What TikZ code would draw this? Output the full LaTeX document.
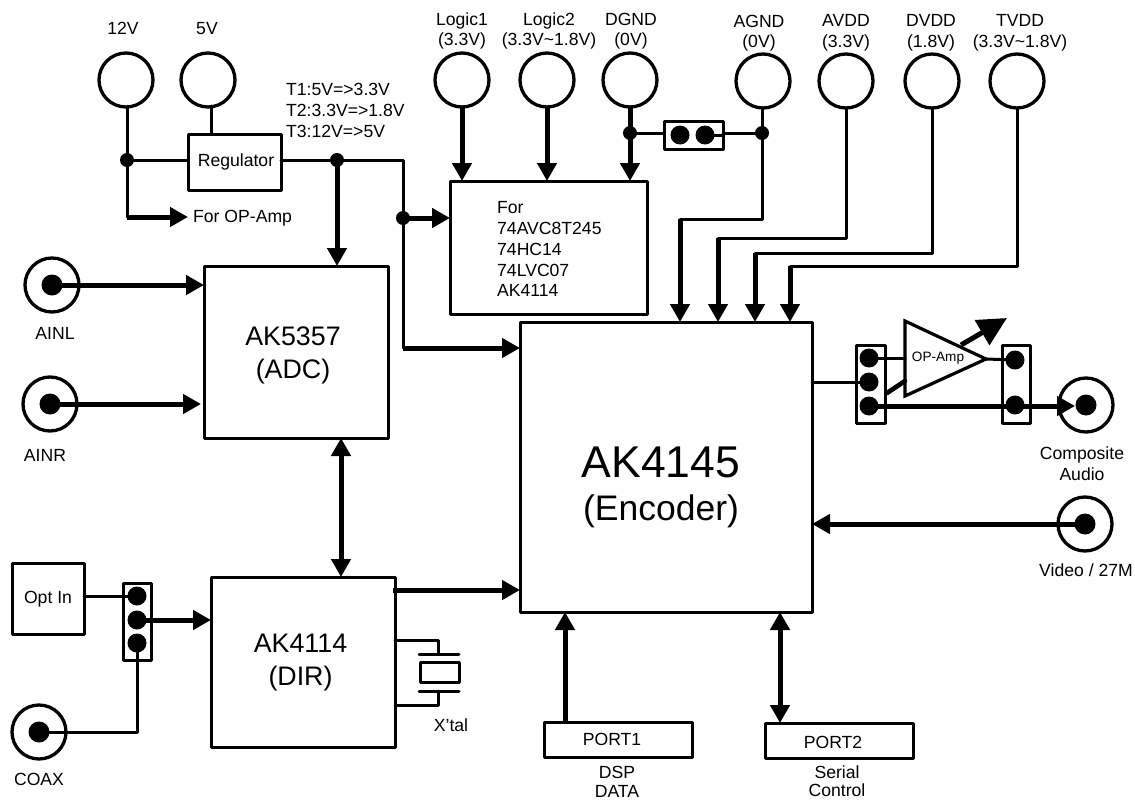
\documentclass[tikz,border=0pt]{standalone}
\usepackage{fontspec}
\setmainfont{Liberation Sans}
\usetikzlibrary{arrows.meta,calc}
\tikzset{
  bigtip/.tip={Triangle[length=18pt,width=19pt]},
  hugetip/.tip={Triangle[length=29pt,width=28pt]},
  wire/.style={line width=3pt,line cap=round,line join=round},
  heavy/.style={line width=5pt,line join=round},
  thickarr/.style={heavy,-{bigtip}},
  bothway/.style={heavy,{bigtip}-{bigtip}},
  box/.style={draw,line width=3pt,line join=round,inner sep=0pt,outer sep=0pt,anchor=north west,align=center},
  ring/.style={draw,circle,line width=3.3pt,minimum size=54pt,inner sep=0pt,outer sep=0pt},
  dot/.style={fill,circle,minimum size=#1,inner sep=0pt,outer sep=0pt},
  lbl/.style={font=\fontsize{17.6}{20.6}\selectfont,align=center,inner sep=0pt},
  midtxt/.style={font=\fontsize{26.8}{33}\selectfont,align=center,inner sep=0pt},
}
\begin{document}
\begin{tikzpicture}[x=1pt,y=-1pt]
\useasboundingbox (0,0) rectangle (1135,800);
% supply rings
\foreach \n/\x/\y in {c12/126/80,c5/208/80,clogica/462/80,clogicb/547/80,cdgnd/630/80,cagnd/763/81,cavdd/846/81,cdvdd/932/81,ctvdd/1017/81}
  \node[ring] (\n) at (\x,\y) {};
\node[lbl] (t12) at (123,28) {12V};
\node[lbl] (t5) at (207,29) {5V};
\node[lbl] (tla) at (462,31) {Logic1\\(3.3V)};
\node[lbl] (tlb) at (549,31) {Logic2\\(3.3V\textasciitilde 1.8V)};
\node[lbl] (tdg) at (631,31) {DGND\\(0V)};
\node[lbl] (tag) at (759,33) {AGND\\(0V)};
\node[lbl] (tav) at (846,33) {AVDD\\(3.3V)};
\node[lbl] (tdv) at (931,33) {DVDD\\(1.8V)};
\node[lbl] (ttv) at (1020,33) {TVDD\\(3.3V\textasciitilde 1.8V)};
\node[lbl,anchor=north west,align=left,font=\fontsize{17.6}{20.8}\selectfont] (tt) at (286,83) {T1:5V=>3.3V\\T2:3.3V=>1.8V\\T3:12V=>5V};
% boxes
\node[box,minimum width=93pt,minimum height=56pt] (reg) at (188,134) {};
\node[lbl] (treg) at (236,162) {Regulator};
\node[box,minimum width=197pt,minimum height=133pt] (forbox) at (450,181) {};
\node[lbl,anchor=north west,align=left,font=\fontsize{17.6}{20.9}\selectfont] (fortxt) at (497,201) {For\\74AVC8T245\\74HC14\\74LVC07\\AK4114};
\node[box,minimum width=184pt,minimum height=172pt] (adc) at (204,266) {};
\node[midtxt] (tadc) at (293,355) {AK5357\\(ADC)};
\node[box,minimum width=184pt,minimum height=170pt] (dir) at (211,577) {};
\node[midtxt] (tdir) at (300.5,663) {AK4114\\(DIR)};
\node[box,minimum width=292pt,minimum height=290pt] (enc) at (520,322) {};
\node[inner sep=0pt,font=\fontsize{44.5}{50}\selectfont] (tenc) at (661,462) {AK4145};
\node[inner sep=0pt,font=\fontsize{35.5}{40}\selectfont] (tencb) at (661,511) {(Encoder)};
\node[box,minimum width=72pt,minimum height=71pt] (opt) at (12,563) {};
\node[lbl] (topt) at (48,599) {Opt In};
\node[box,minimum width=148pt,minimum height=35pt] (port1) at (544,722) {};
\node[lbl] (tpa) at (612,739) {PORT1};
\node[box,minimum width=148pt,minimum height=35pt] (port2) at (765,723) {};
\node[lbl] (tpb) at (833,742) {PORT2};
\node[lbl,font=\fontsize{17.6}{18.5}\selectfont] (tdsp) at (617,782) {DSP\\DATA};
\node[lbl,font=\fontsize{17.6}{18}\selectfont] (tser) at (837,781) {Serial\\Control};
\node[lbl,anchor=west] (tfor) at (193,218) {For OP-Amp};
% input rings with pins
\foreach \n/\x/\y in {ainl/52/285,ainr/50/404,coax/39/732,comp/1086/405,vid/1085/524}{
  \node[ring] (\n) at (\x,\y) {};
  \node[dot=21pt] (\n d) at (\x,\y) {};
}
\node[lbl] (tainl) at (55,333) {AINL};
\node[lbl] (tainr) at (45,455) {AINR};
\node[lbl] (tcoax) at (39,779) {COAX};
\node[lbl] (tcomp) at (1082,464) {Composite\\Audio};
\node[lbl] (tvid) at (1086,570) {Video / 27M};
\node[lbl] (txtal) at (451,725) {X’tal};
% power wiring
\node[dot=14pt] (j12) at (127,160) {};
\node[dot=14pt] (jreg) at (337,160) {};
\node[dot=14pt] (jfor) at (403,218) {};
\node[dot=14pt] (jd) at (630,133) {};
\node[dot=14pt] (ja) at (762,133) {};
\coordinate (corn) at (403,160);
\coordinate (endv) at (403,348);
\coordinate (opamp) at (188,217);
\coordinate (vfive) at (211,106);
\draw[wire] (c12.south -| j12) -- (j12.center) -- (reg.west |- j12);
\draw[wire] (j12.center) -- (j12 |- opamp);
\draw[thickarr] (j12 |- opamp) -- (opamp);
\draw[wire] (vfive) -- (reg.north -| vfive);
\draw[wire] (reg.east |- jreg) -- (jreg.center) -- (corn) -- (endv);
\draw[thickarr] (jreg.center) -- (jreg |- adc.north);
\draw[thickarr] (jfor.center) -- (forbox.west |- jfor);
\draw[thickarr] (endv) -- (enc.west |- endv);
\draw[thickarr] (clogica.south) -- (forbox.north -| clogica);
\draw[thickarr] (clogicb.south) -- (forbox.north -| clogicb);
\draw[thickarr] (cdgnd.south) -- (forbox.north -| cdgnd);
% ground jumper
\node[box,minimum width=59pt,minimum height=28pt] (gj) at (664,121) {};
\node[dot=19pt] (gja) at (680,135) {};
\node[dot=19pt] (gjb) at (705,135) {};
\draw[wire] (jd.center) -- (gj.west |- jd);
\draw[wire] (gj.east |- ja) -- (ja.center);
\draw[wire] (gjb.center) -- (gj.east |- gjb);
% encoder supplies
\coordinate (ea) at (680,219);
\coordinate (eb) at (718,238);
\coordinate (ec) at (755,253);
\coordinate (ed) at (790,266);
\draw[wire] (cagnd.south -| ja) -- (ja |- ea) -- (ea);
\draw[wire] (cavdd.south) -- (cavdd |- eb) -- (eb);
\draw[wire] (cdvdd.south) -- (cdvdd |- ec) -- (ec);
\draw[wire] (ctvdd.south) -- (ctvdd |- ed) -- (ed);
\draw[thickarr] (ea) -- (enc.north -| ea);
\draw[thickarr] (eb) -- (enc.north -| eb);
\draw[thickarr] (ec) -- (enc.north -| ec);
\draw[thickarr] (ed) -- (enc.north -| ed);
% left inputs
\draw[thickarr] (ainld.center) -- (adc.west |- ainld);
\coordinate (ainrtip) at (201,404);
\draw[thickarr] (ainrd.center) -- (ainrtip);
\coordinate (bi) at (341,500);
\draw[bothway] (adc.south -| bi) -- (dir.north -| bi);
% optical input jumper
\node[box,minimum width=28pt,minimum height=77pt] (jin) at (123,583) {};
\node[dot=19pt] (jina) at (137,596) {};
\node[dot=19pt] (jinb) at (137,620) {};
\node[dot=19pt] (jinc) at (137,643) {};
\draw[wire] (opt.east |- jina) -- (jina.center);
\draw[wire] (coaxd.center) -- (jinc |- coaxd) -- (jinc.center);
\draw[thickarr] (jinb.center) -- (dir.west |- jinb);
\coordinate (dirout) at (393,590);
\draw[thickarr] (dirout) -- (enc.west |- dirout);
% crystal
\coordinate (xa) at (438,640);
\coordinate (xb) at (438,705);
\node[box,minimum width=39pt,minimum height=20pt] (xtal) at (420,662) {};
\coordinate (pa) at (438,654);
\coordinate (pb) at (438,691);
\draw[wire] (dir.east |- xa) -- (xa) -- (pa);
\draw[wire] (dir.east |- xb) -- (xb) -- (pb);
\draw[wire] (419,654) -- (459,654);
\draw[wire] (419,691) -- (459,691);
% ports
\coordinate (pp) at (565,722);
\draw[thickarr] (pp) -- (enc.south -| pp);
\coordinate (ps) at (780,723);
\draw[bothway] (enc.south -| ps) -- (ps);
\draw[thickarr] (vidd.center) -- (enc.east |- vidd);
% output section
\node[box,minimum width=29pt,minimum height=78pt] (jl) at (856,345) {};
\node[dot=19pt] (jla) at (869,358) {};
\node[dot=19pt] (jlb) at (869,382) {};
\node[dot=19pt] (jlc) at (869,406) {};
\node[box,minimum width=28pt,minimum height=78pt] (jr) at (1002,345) {};
\node[dot=19pt] (jra) at (1015,360) {};
\node[dot=19pt] (jrb) at (1015,405) {};
\draw[wire] (enc.east |- jlb) -- (jlb.center);
\draw[line width=3.2pt,line join=miter] (905,321) -- (986,359) -- (905,396) -- cycle;
\coordinate (ampin) at (905,358);
\coordinate (ampout) at (986,359);
\node[inner sep=0pt,font=\fontsize{13.6}{16}\selectfont] (tamp) at (938,358) {OP-Amp};
\draw[wire] (jla.center) -- (ampin);
\draw[wire] (ampout) -- (jra.center);
\coordinate (pwa) at (887,393);
\coordinate (pwb) at (905,381);
\draw[line width=4.6pt,line cap=round] (pwa) -- (pwb);
\coordinate (ga) at (961,345);
\coordinate (gb) at (1007,318);
\draw[heavy,-{hugetip}] (ga) -- (gb);
\coordinate (comptip) at (1075,406);
\draw[thickarr] (jlc.center) -- (comptip);
\end{tikzpicture}
\end{document}
